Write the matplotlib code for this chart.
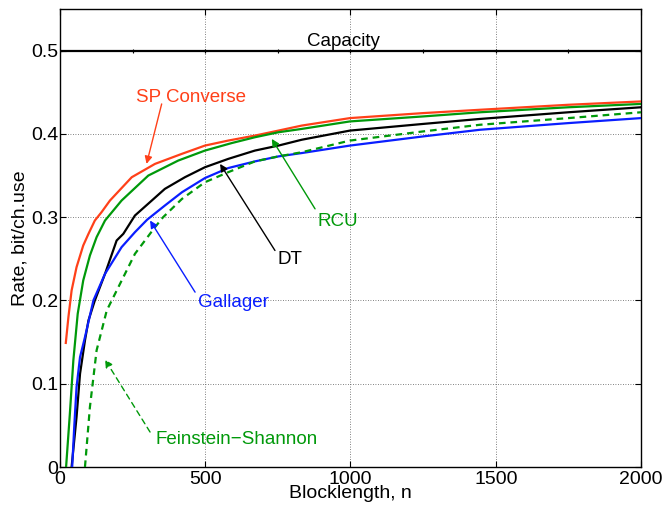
import matplotlib
matplotlib.use("Agg")
import matplotlib.pyplot as plt

plt.rcParams['font.family'] = ['Liberation Sans', 'DejaVu Sans']

# ---- data ----
sp_n = [20, 29, 40, 57, 80, 98, 120, 143, 172, 247, 327, 419, 499, 579, 671, 752, 832, 998, 1250, 1446, 1750, 2000]
sp_r = [0.149, 0.180, 0.212, 0.240, 0.266, 0.280, 0.296, 0.306, 0.320, 0.348, 0.364, 0.376, 0.386, 0.392, 0.398, 0.404, 0.410, 0.419, 0.425, 0.429, 0.435, 0.439]

rcu_n = [21, 34, 46, 61, 80, 103, 126, 155, 212, 304, 407, 499, 591, 671, 752, 832, 998, 1250, 1446, 1750, 2000]
rcu_r = [0.0, 0.064, 0.128, 0.184, 0.224, 0.254, 0.276, 0.296, 0.320, 0.350, 0.368, 0.380, 0.389, 0.396, 0.402, 0.406, 0.415, 0.421, 0.426, 0.432, 0.436]

dt_n = [40, 57, 69, 86, 98, 120, 155, 195, 218, 258, 316, 361, 430, 499, 579, 671, 752, 832, 998, 1250, 1446, 1750, 2000]
dt_r = [0.0, 0.060, 0.112, 0.152, 0.176, 0.200, 0.232, 0.272, 0.280, 0.302, 0.320, 0.334, 0.348, 0.360, 0.370, 0.380, 0.386, 0.393, 0.404, 0.412, 0.418, 0.426, 0.432]

gal_n = [42, 49, 57, 69, 86, 115, 155, 212, 258, 300, 361, 420, 499, 579, 671, 752, 832, 998, 1250, 1446, 1750, 2000]
gal_r = [0.0, 0.048, 0.096, 0.132, 0.156, 0.200, 0.232, 0.264, 0.282, 0.297, 0.314, 0.330, 0.347, 0.359, 0.367, 0.373, 0.377, 0.386, 0.397, 0.405, 0.413, 0.419]

fs_n = [86, 103, 126, 161, 201, 258, 327, 355, 420, 499, 579, 671, 752, 832, 998, 1250, 1446, 1750, 2000]
fs_r = [0.0, 0.072, 0.140, 0.188, 0.216, 0.256, 0.288, 0.300, 0.322, 0.342, 0.354, 0.367, 0.373, 0.378, 0.392, 0.403, 0.411, 0.419, 0.426]

cap_n = [0, 250, 500, 750, 1000, 1250, 1500, 1750, 2000]
cap_r = [0.5, 0.5, 0.5, 0.5, 0.5, 0.5, 0.5, 0.5, 0.5]

x_ticks = [0, 500, 1000, 1500, 2000]
y_ticks = [0, 0.1, 0.2, 0.3, 0.4, 0.5]
y_ticklabels = ['0', '0.1', '0.2', '0.3', '0.4', '0.5']

RED = '#ff4019'
GREEN = '#00990a'
BLUE = '#0a1eff'
BLACK = 'black'

fig = plt.figure(figsize=(6.68, 5.09), dpi=100)
ax = fig.add_axes([0.0898, 0.0825, 0.9596 - 0.0898, 0.9823 - 0.0825])

lw = 1.6
ax.plot(cap_n, cap_r, color=BLACK, lw=lw, marker='+', ms=3, mew=0.8, zorder=4)
ax.plot(sp_n, sp_r, color=RED, lw=lw, zorder=5)
ax.plot(rcu_n, rcu_r, color=GREEN, lw=lw, zorder=5)
ax.plot(dt_n, dt_r, color=BLACK, lw=lw, zorder=5)
ax.plot(gal_n, gal_r, color=BLUE, lw=lw, zorder=5)
ax.plot(fs_n, fs_r, color=GREEN, lw=lw, ls=(0, (3, 2.2)), zorder=5)

ax.set_xlim(0, 2000)
ax.set_ylim(0, 0.55)
ax.set_xticks(x_ticks)
ax.set_yticks(y_ticks)
ax.set_yticklabels(y_ticklabels)
ax.tick_params(direction='in', top=True, right=True, length=4, width=0.8,
               labelsize=14, pad=3)
ax.tick_params(axis='y', pad=1)
ax.grid(True, ls=(0, (1, 2)), color='0.35', lw=0.6)
for s in ax.spines.values():
    s.set_linewidth(1.0)

ax.set_xlabel('Blocklength, n', fontsize=14, labelpad=-2)
ax.set_ylabel('Rate, bit/ch.use', fontsize=14, labelpad=2)

fs = 13.5
ax.text(975, 0.505, 'Capacity', color=BLACK, fontsize=fs, ha='center', va='baseline')
ax.text(450, 0.4385, 'SP Converse', color=RED, fontsize=fs, ha='center', va='baseline')
ax.text(957, 0.290, 'RCU', color=GREEN, fontsize=fs, ha='center', va='baseline')
ax.text(792, 0.244, 'DT', color=BLACK, fontsize=fs, ha='center', va='baseline')
ax.text(596, 0.192, 'Gallager', color=BLUE, fontsize=fs, ha='center', va='baseline')
ax.text(608, 0.028, 'Feinstein\u2212Shannon', color=GREEN, fontsize=fs, ha='center', va='baseline')

def arrow(tail, tip, color, ls='-'):
    ax.annotate('', xy=tip, xytext=tail,
                arrowprops=dict(arrowstyle='-|>', color=color, lw=1.0, ls=ls,
                                mutation_scale=11, shrinkA=0, shrinkB=0),
                zorder=6)

arrow((350, 0.436), (298, 0.364), RED)
arrow((878, 0.310), (729, 0.394), GREEN)
arrow((740, 0.260), (551, 0.364), BLACK)
arrow((465, 0.210), (310, 0.296), BLUE)
arrow((310, 0.042), (155, 0.129), GREEN, ls=(0, (4, 3)))

fig.savefig('out.png', dpi=100)
